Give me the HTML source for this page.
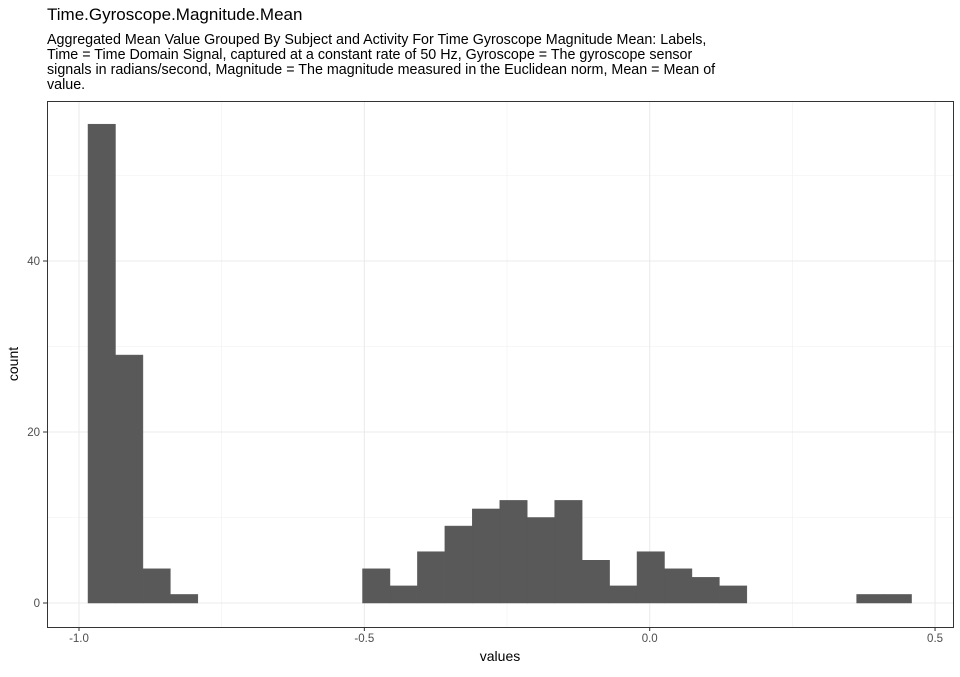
<!DOCTYPE html>
<html><head><meta charset="utf-8"><style>
body{margin:0;background:#fff;font-family:"Liberation Sans",sans-serif}
</style></head><body>
<svg id="chart" width="960" height="672" xmlns="http://www.w3.org/2000/svg" font-family="Liberation Sans, sans-serif">
<text x="47" y="20" font-size="17" fill="#000">Time.Gyroscope.Magnitude.Mean</text>
<g font-size="14.3" fill="#000">
<text x="47" y="44">Aggregated Mean Value Grouped By Subject and Activity For Time Gyroscope Magnitude Mean: Labels,</text>
<text x="47" y="59">Time = Time Domain Signal, captured at a constant rate of 50 Hz, Gyroscope = The gyroscope sensor</text>
<text x="47" y="74">signals in radians/second, Magnitude = The magnitude measured in the Euclidean norm, Mean = Mean of</text>
<text x="47" y="89">value.</text>
</g>
<g id="grid"></g>
<g id="bars"></g>
<rect x="47.5" y="101.5" width="906" height="526" fill="none" stroke="#333" stroke-width="1"/>
<g id="axes" font-size="11.5" fill="#4d4d4d"></g>
<text x="500" y="661" font-size="14" text-anchor="middle">values</text>
<text x="18" y="364" font-size="14" text-anchor="middle" transform="rotate(-90 18 364)">count</text>
</svg>
<script>
const binStart = -0.9842;
const binWidth = 0.0481;
const counts = [56,29,4,1,0,0,0,0,0,0,4,2,6,9,11,12,10,12,5,2,6,4,3,2,0,0,0,0,1,1];
const xTicks = [-1.0,-0.5,0.0,0.5];
const xTickLabels = ["-1.0","-0.5","0.0","0.5"];
const xMinor = [-0.75,-0.25,0.25];
const yTicks = [0,20,40];
const yMinor = [10,30,50];
const NS="http://www.w3.org/2000/svg";
const L=47,R=953,T=101,B=627;
const xs=v=>79+(v+1)*570.7;
const ys=c=>603-c*8.55;
function mk(tag,attrs,parent){const e=document.createElementNS(NS,tag);for(const k in attrs)e.setAttribute(k,attrs[k]);parent.appendChild(e);return e;}
const grid=document.getElementById('grid'),bars=document.getElementById('bars'),axes=document.getElementById('axes');
xMinor.forEach(v=>{const l=mk('line',{x1:xs(v),x2:xs(v),y1:T,y2:B,stroke:'#f0f0f0','stroke-width':0.6},grid);

});
yMinor.forEach(v=>{const l=mk('line',{x1:L,x2:R,y1:ys(v),y2:ys(v),stroke:'#f0f0f0','stroke-width':0.6},grid);

});
xTicks.forEach((v,i)=>{const l=mk('line',{x1:xs(v),x2:xs(v),y1:T,y2:B,stroke:'#ebebeb','stroke-width':1.1},grid);


mk('line',{x1:xs(v),x2:xs(v),y1:B,y2:B+4,stroke:'#333'},axes);
const t=mk('text',{x:xs(v),y:B+15,'text-anchor':'middle'},axes);t.textContent=xTickLabels[i];

});
yTicks.forEach(v=>{const l=mk('line',{x1:L,x2:R,y1:ys(v),y2:ys(v),stroke:'#ebebeb','stroke-width':1.1},grid);


mk('line',{x1:L-4,x2:L,y1:ys(v),y2:ys(v),stroke:'#333'},axes);
const t=mk('text',{x:L-7,y:ys(v)+4,'text-anchor':'end'},axes);t.textContent=String(v);

});
counts.forEach((c,i)=>{if(!c)return;const x0=xs(binStart+i*binWidth),x1=xs(binStart+(i+1)*binWidth);
const r=mk('rect',{x:x0,y:ys(c),width:x1-x0,height:ys(0)-ys(c),fill:'#595959',stroke:'#595959','stroke-width':0.5},bars);

});
</script>
</body></html>
